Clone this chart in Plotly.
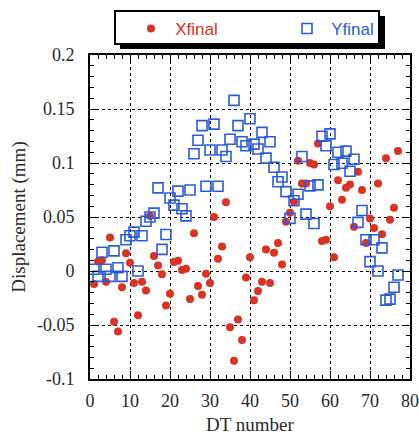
import plotly.graph_objects as go

dt = list(range(1, 78))
x_final = [-0.012, 0.0087, 0.010, -0.010, 0.031, -0.047, -0.056, -0.015, 0.0165, 0.0077,
           -0.011, -0.041, -0.010, -0.018, 0.051, 0.014, 0.005, -0.003, -0.032, -0.021,
           0.0084, 0.0096, 0.001, 0.002, -0.026, 0.035, -0.014, -0.022, -0.0025, -0.011,
           0.050, 0.0114, 0.0226, 0.0636, -0.052, -0.083, -0.045, -0.064, -0.006, 0.0127,
           -0.027, -0.0186, -0.010, 0.020, -0.011, 0.017, 0.026, 0.006, 0.0456, 0.054,
           0.064, 0.102, 0.081, 0.081, 0.100, 0.0986, 0.118, 0.0277, 0.029, 0.060,
           0.0127, 0.084, 0.066, 0.077, 0.080, 0.041, 0.092, 0.075, 0.026, 0.0487,
           0.0397, 0.081, 0.034, 0.1045, 0.0474, 0.0586, 0.111]
y_final = [0.0016, -0.005, 0.0174, 0.0016, -0.005, 0.0186, 0.003, -0.005, 0.029, 0.0326,
           0.036, 0.0, 0.0326, 0.046, 0.050, 0.0536, 0.077, 0.020, 0.0338, 0.0676,
           0.061, 0.074, 0.0577, 0.051, 0.075, 0.1085, 0.121, 0.1346, 0.0785, 0.112,
           0.136, 0.0785, 0.112, 0.106, 0.122, 0.158, 0.1346, 0.1197, 0.116, 0.141,
           0.1175, 0.113, 0.1284, 0.1045, 0.1197, 0.096, 0.0826, 0.087, 0.0735, 0.0487,
           0.065, 0.071, 0.106, 0.0527, 0.0788, 0.044, 0.0797, 0.1247, 0.116, 0.127,
           0.0986, 0.11, 0.0998, 0.111, 0.0924, 0.1035, 0.045, 0.056, 0.029, 0.0087,
           0.029, 0.0, 0.0214, -0.027, -0.026, -0.015, -0.0037]

x_ticks = [0, 10, 20, 30, 40, 50, 60, 70, 80]
y_ticks = [-0.1, -0.05, 0, 0.05, 0.1, 0.15, 0.2]
y_ticktext = ["-0.1", "-0.05", "0", "0.05", "0.1", "0.15", "0.2"]

RED = "#db3223"
BLUE = "#2b5cd8"
SERIF = "Liberation Serif, Times New Roman, serif"
SANS = "Liberation Sans, Arial, sans-serif"

W, H = 419, 435
L, R, T, B = 90, 9, 55, 56
pw, ph = W - L - R, H - T - B


def px2paper(px, py):
    return (px - L) / pw, (H - B - py) / ph


fig = go.Figure()
fig.add_trace(go.Scatter(x=dt, y=x_final, mode="markers",
                         name="\u2005<span style='color:%s'>Xfinal</span>" % RED,
                         legend="legend",
                         marker=dict(symbol="circle", size=8, color=RED)))
fig.add_trace(go.Scatter(x=dt, y=y_final, mode="markers",
                         name="\u2005<span style='color:%s'>Yfinal</span>" % BLUE,
                         legend="legend2",
                         marker=dict(symbol="square-open", size=10, color=BLUE,
                                     line=dict(width=1.6, color=BLUE))))

# legend box with shadow
sx0, sy0 = px2paper(120, 16)
sx1, sy1 = px2paper(385, 49)
bx0, by0 = px2paper(115, 11)
bx1, by1 = px2paper(379, 44)
shapes = [
    dict(type="rect", xref="paper", yref="paper", x0=sx0, y0=sy1, x1=sx1, y1=sy0,
         fillcolor="black", line=dict(width=0), layer="above"),
    dict(type="rect", xref="paper", yref="paper", x0=bx0, y0=by1, x1=bx1, y1=by0,
         fillcolor="white", line=dict(width=2, color="black"), layer="above"),
]

l1x, l1y = px2paper(131, 29)
l2x, l2y = px2paper(287, 29)
leg_common = dict(orientation="h", xanchor="left", yanchor="middle",
                  bgcolor="rgba(0,0,0,0)", borderwidth=0,
                  font=dict(family=SANS, size=17, color="black"), itemclick=False)

axis_common = dict(
    showline=True, linecolor="black", linewidth=2, mirror="allticks",
    ticks="inside", ticklen=8, tickwidth=1.2, tickcolor="black",
    showgrid=True, gridcolor="black", griddash="dot", gridwidth=1,
    zeroline=False, automargin=False,
    tickfont=dict(family=SERIF, size=18, color="#2a2a2a"),
)

fig.update_layout(
    width=W, height=H,
    margin=dict(l=L, r=R, t=T, b=B),
    paper_bgcolor="white", plot_bgcolor="white",
    shapes=shapes,
    showlegend=True,
    legend=dict(x=l1x, y=l1y, **leg_common),
    legend2=dict(x=l2x, y=l2y, **leg_common),
    xaxis=dict(range=[0, 80], tickvals=x_ticks, ticklabelstandoff=4,
               minor=dict(dtick=2, ticks="inside", ticklen=4, tickcolor="black", showgrid=False),
               title=dict(text="DT number", font=dict(family=SERIF, size=19, color="#2a2a2a"), standoff=9),
               **axis_common),
    yaxis=dict(range=[-0.1, 0.2], tickvals=y_ticks, ticktext=y_ticktext, ticklabelstandoff=10,
               minor=dict(dtick=0.01, ticks="inside", ticklen=4, tickcolor="black", showgrid=False),
               title=dict(text="Displacement (mm)", font=dict(family=SERIF, size=19, color="#2a2a2a"), standoff=6),
               **axis_common),
)

fig.write_html("out.html")
